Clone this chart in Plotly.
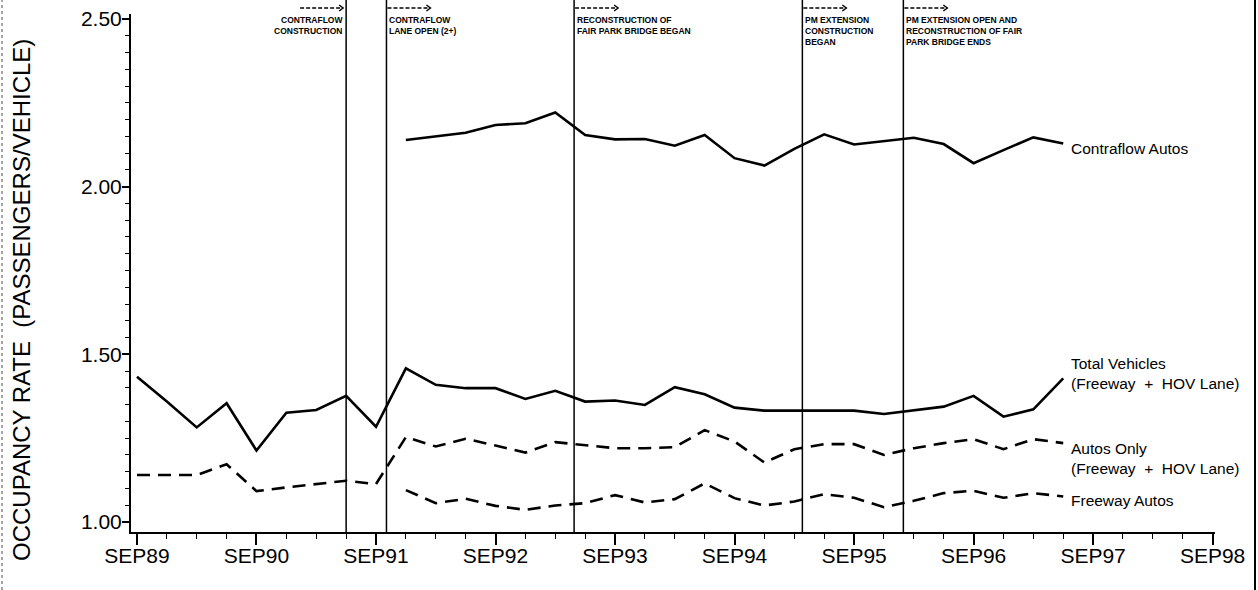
import plotly.graph_objects as go

# ---------------- data ----------------
periods = ["SEP89", "DEC89", "MAR90", "JUN90", "SEP90", "DEC90", "MAR91", "JUN91",
           "SEP91", "DEC91", "MAR92", "JUN92", "SEP92", "DEC92", "MAR93", "JUN93",
           "SEP93", "DEC93", "MAR94", "JUN94", "SEP94", "DEC94", "MAR95", "JUN95",
           "SEP95", "DEC95", "MAR96", "JUN96", "SEP96", "DEC96", "MAR97", "JUN97"]

total_vehicles = [1.433, 1.359, 1.282, 1.354, 1.213, 1.326, 1.334, 1.376, 1.284, 1.458,
                  1.409, 1.399, 1.399, 1.367, 1.391, 1.359, 1.362, 1.349, 1.402, 1.381,
                  1.341, 1.332, 1.332, 1.332, 1.332, 1.322, 1.334, 1.344, 1.376, 1.314,
                  1.336, 1.428]

autos_only = [1.140, 1.140, 1.140, 1.172, 1.092, 1.103, 1.113, 1.123, 1.113, 1.253,
              1.225, 1.248, 1.228, 1.207, 1.238, 1.228, 1.220, 1.220, 1.223, 1.274,
              1.240, 1.177, 1.217, 1.232, 1.232, 1.200, 1.220, 1.235, 1.247, 1.217,
              1.247, 1.235]

# these two series begin in DEC91
late_start = "DEC91"
contraflow_autos = [2.139, 2.150, 2.161, 2.184, 2.189, 2.221, 2.154, 2.141, 2.142, 2.122,
                    2.154, 2.085, 2.063, 2.113, 2.156, 2.126, 2.137, 2.146, 2.127, 2.070,
                    2.109, 2.147, 2.129]

freeway_autos = [1.095, 1.056, 1.069, 1.048, 1.036, 1.049, 1.056, 1.080, 1.058, 1.068,
                 1.115, 1.071, 1.049, 1.061, 1.083, 1.072, 1.044, 1.063, 1.086, 1.093,
                 1.072, 1.086, 1.076]

tick_labels = ["SEP89", "SEP90", "SEP91", "SEP92", "SEP93", "SEP94", "SEP95",
               "SEP96", "SEP97", "SEP98"]
y_ticks = [1.00, 1.50, 2.00, 2.50]

# event markers, in quarters after SEP89
event_pos = [7.0, 8.35, 14.63, 22.27, 25.65]
event_text = ["CONTRAFLOW<br>CONSTRUCTION",
              "CONTRAFLOW<br>LANE OPEN (2+)",
              "RECONSTRUCTION OF<br>FAIR PARK BRIDGE BEGAN",
              "PM EXTENSION<br>CONSTRUCTION<br>BEGAN",
              "PM EXTENSION OPEN AND<br>RECONSTRUCTION OF FAIR<br>PARK BRIDGE ENDS"]

# ---------------- figure ----------------
x_all = list(range(len(periods)))
s = periods.index(late_start)
x_late = x_all[s:]

FONT = "Liberation Sans, Arial, Helvetica, sans-serif"
fig = go.Figure()

def add_line(x, y, dash):
    fig.add_trace(go.Scatter(x=x, y=y, mode="lines",
                             line=dict(color="black", width=2.6, dash=dash, shape="linear"),
                             hoverinfo="skip", showlegend=False))

add_line(x_late, contraflow_autos, "solid")
add_line(x_all, total_vehicles, "solid")
add_line(x_all, autos_only, "13px,8px")
add_line(x_late, freeway_autos, "13px,8px")

shapes = []
annotations = []

top_ext = 1 + 14 / 518
for i, (ex, txt) in enumerate(zip(event_pos, event_text)):
    shapes.append(dict(type="line", xref="x", yref="paper", x0=ex, x1=ex, y0=0, y1=top_ext,
                       line=dict(color="black", width=1.5)))
    if i == 0:
        a0, a1 = -46, -3
        annotations.append(dict(x=ex, y=1, xref="x", yref="paper", xanchor="right", yanchor="top",
                                xshift=-1, yshift=1, align="right", showarrow=False,
                                text="<b>" + txt + "</b>",
                                font=dict(family=FONT, size=8.5, color="black")))
    else:
        a0, a1 = 1, 44
        annotations.append(dict(x=ex, y=1, xref="x", yref="paper", xanchor="left", yanchor="top",
                                xshift=1, yshift=1, align="left", showarrow=False,
                                text="<b>" + txt + "</b>",
                                font=dict(family=FONT, size=8.5, color="black")))
    shapes.append(dict(type="line", xref="x", xsizemode="pixel", xanchor=ex, x0=a0, x1=a1,
                       yref="paper", ysizemode="pixel", yanchor=1, y0=6, y1=6,
                       line=dict(color="black", width=1.6, dash="4px,2px")))
    shapes.append(dict(type="path", xref="x", xsizemode="pixel", xanchor=ex,
                       yref="paper", ysizemode="pixel", yanchor=1,
                       path=f"M {a1-4},9 L {a1},6 L {a1-4},3",
                       line=dict(color="black", width=1.4)))

# series labels at line ends
label_font = dict(family=FONT, size=15.5, color="black")
for x, y, txt, ysh in [
    (x_late[-1], contraflow_autos[-1], "Contraflow Autos", -5),
    (x_all[-1], total_vehicles[-1], "Total Vehicles<br>(Freeway  +  HOV Lane)", 5),
    (x_all[-1], autos_only[-1], "Autos Only<br>(Freeway  +  HOV Lane)", -15),
    (x_late[-1], freeway_autos[-1], "Freeway Autos", -4),
]:
    annotations.append(dict(x=x, y=y, xref="x", yref="y", xanchor="left", yanchor="middle",
                            xshift=6, yshift=ysh, align="left", showarrow=False,
                            text=txt.replace("  ", "\u00a0 "), font=label_font))

# y-axis title
annotations.append(dict(x=(21 - 131) / 1084, y=1 - (300 - 14) / 518, xref="paper", yref="paper",
                        xanchor="center", yanchor="middle", textangle=-90, showarrow=False,
                        text="OCCUPANCY RATE \u00a0(PASSENGERS/VEHICLE)",
                        font=dict(family=FONT, size=24, color="black")))

# scan frame edges
shapes.append(dict(type="line", xref="paper", yref="paper", x0=(1255 - 131) / 1084,
                   x1=(1255 - 131) / 1084, y0=-58 / 518, y1=1 + 14 / 518,
                   line=dict(color="black", width=2)))
shapes.append(dict(type="line", xref="paper", yref="paper", x0=(2 - 131) / 1084,
                   x1=(2 - 131) / 1084, y0=-58 / 518, y1=1 + 14 / 518,
                   line=dict(color="#888888", width=1.5, dash="dot")))

fig.update_layout(
    width=1258, height=590,
    margin=dict(l=131, r=43, t=14, b=58, autoexpand=False),
    paper_bgcolor="white", plot_bgcolor="white",
    showlegend=False,
    font=dict(family=FONT, color="black"),
    shapes=shapes, annotations=annotations,
    xaxis=dict(range=[-0.2, 36.08], tickmode="array",
               tickvals=[4 * i for i in range(len(tick_labels))], ticktext=tick_labels,
               ticks="outside", ticklen=11, tickwidth=1.5, tickcolor="black",
               ticklabelstandoff=-7,
               tickfont=dict(family=FONT, size=21, color="black"),
               showline=True, linewidth=2, linecolor="black", mirror=False,
               showgrid=False, zeroline=False,
               minor=dict(tick0=0, dtick=1, ticks="outside", ticklen=5, tickwidth=1.2,
                          tickcolor="black", showgrid=False)),
    yaxis=dict(range=[0.97, 2.515], tickmode="array",
               tickvals=y_ticks, ticktext=[f"{v:.2f}" for v in y_ticks],
               ticks="outside", ticklen=7, tickwidth=1.5, tickcolor="black",
               ticklabelstandoff=-4,
               tickfont=dict(family=FONT, size=21, color="black"),
               showline=True, linewidth=2, linecolor="black", mirror=False,
               showgrid=False, zeroline=False,
               minor=dict(tick0=1.0, dtick=0.05, ticks="outside", ticklen=4, tickwidth=1.2,
                          tickcolor="black", showgrid=False)),
)

fig.write_html("out.html", config={"displayModeBar": False},
               post_script="document.body.style.margin='0';document.body.style.overflow='hidden';")
